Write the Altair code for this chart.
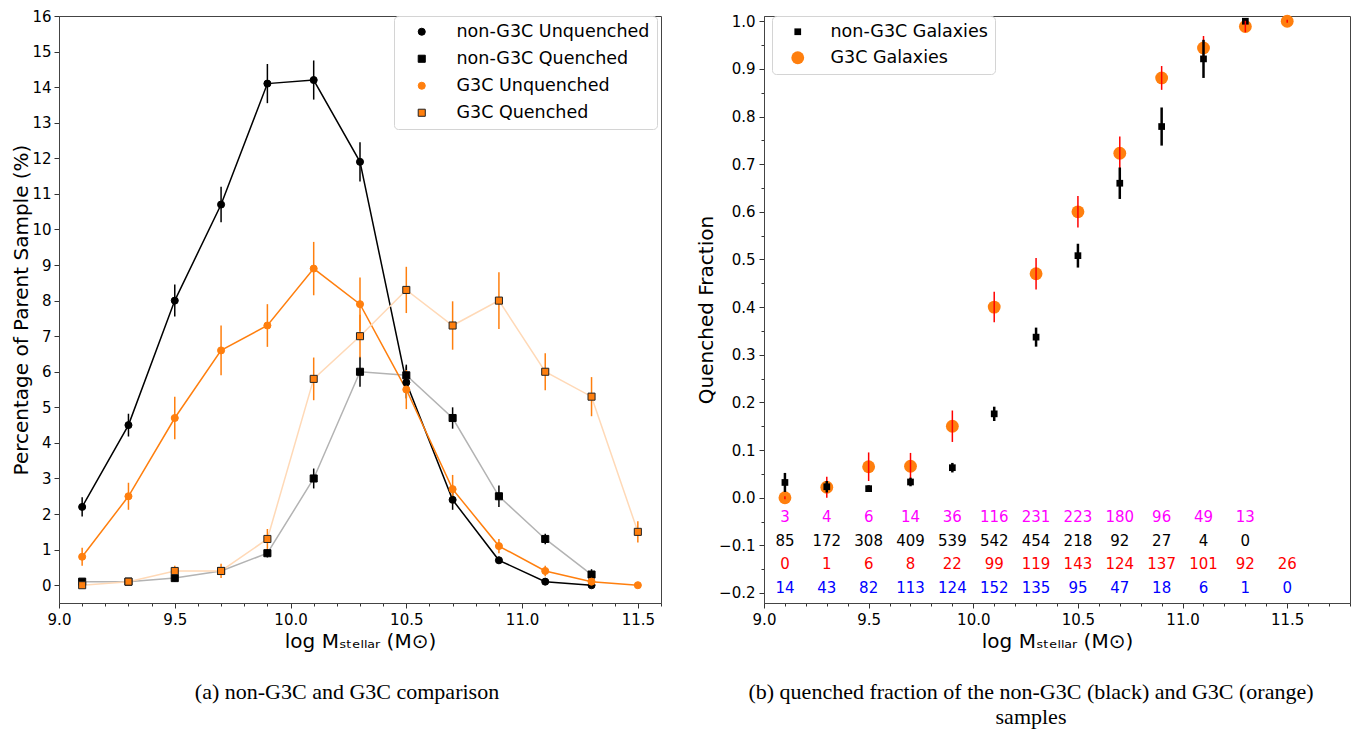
import altair as alt
import pandas as pd

# ---------------- data ----------------
mass_ng = [9.1, 9.3, 9.5, 9.7, 9.9, 10.1, 10.3, 10.5, 10.7, 10.9, 11.1, 11.3]
mass_g = [9.1, 9.3, 9.5, 9.7, 9.9, 10.1, 10.3, 10.5, 10.7, 10.9, 11.1, 11.3, 11.5]

# panel (a): percentage of parent sample
ng_unq_pct = [2.2, 4.5, 8.0, 10.7, 14.1, 14.2, 11.9, 5.7, 2.4, 0.7, 0.1, 0.0]
ng_unq_err = [0.27, 0.32, 0.45, 0.5, 0.55, 0.55, 0.55, 0.45, 0.28, 0.1, 0.04, 0.0]
ng_q_pct = [0.1, 0.1, 0.2, 0.4, 0.9, 3.0, 6.0, 5.9, 4.7, 2.5, 1.3, 0.3]
ng_q_err = [0.03, 0.03, 0.1, 0.08, 0.12, 0.28, 0.42, 0.3, 0.3, 0.3, 0.15, 0.15]
g_unq_pct = [0.8, 2.5, 4.7, 6.6, 7.3, 8.9, 7.9, 5.5, 2.7, 1.1, 0.4, 0.1, 0.0]
g_unq_err = [0.25, 0.38, 0.6, 0.7, 0.6, 0.75, 0.75, 0.55, 0.4, 0.2, 0.15, 0.05, 0.0]
g_q_pct = [0.0, 0.1, 0.4, 0.4, 1.3, 5.8, 7.0, 8.3, 7.3, 8.0, 6.0, 5.3, 1.5]
g_q_err = [0.0, 0.03, 0.15, 0.2, 0.28, 0.6, 0.6, 0.65, 0.68, 0.8, 0.52, 0.55, 0.3]

# panel (b): quenched fraction
ng_frac = [0.032, 0.023, 0.019, 0.033, 0.063, 0.176, 0.337, 0.508, 0.660, 0.779, 0.921, 1.0]
ng_frac_err = [0.02, 0.012, 0.007, 0.009, 0.01, 0.015, 0.02, 0.025, 0.033, 0.04, 0.04, 0.0]
g_frac = [0.0, 0.022, 0.065, 0.066, 0.150, 0.400, 0.470, 0.600, 0.723, 0.881, 0.944, 0.989, 1.0]
g_frac_err = [0.003, 0.022, 0.03, 0.028, 0.033, 0.032, 0.033, 0.033, 0.035, 0.025, 0.025, 0.012, 0.003]

# counts printed under the points
ng_q_n = [3, 4, 6, 14, 36, 116, 231, 223, 180, 96, 49, 13]
ng_u_n = [85, 172, 308, 409, 539, 542, 454, 218, 92, 27, 4, 0]
g_q_n = [0, 1, 6, 8, 22, 99, 119, 143, 124, 137, 101, 92, 26]
g_u_n = [14, 43, 82, 113, 124, 152, 135, 95, 47, 18, 6, 1, 0]

left_series = ["non-G3C Unquenched", "non-G3C Quenched", "G3C Unquenched", "G3C Quenched"]
right_series = ["non-G3C Galaxies", "G3C Galaxies"]

xticks_left = [9.0, 9.1, 9.2, 9.3, 9.4, 9.5, 9.6, 9.7, 9.8, 9.9, 10.0, 10.1, 10.2, 10.3, 10.4,
               10.5, 10.6, 10.7, 10.8, 10.9, 11.0, 11.1, 11.2, 11.3, 11.4, 11.5, 11.6]
xticks_right = xticks_left + [11.7, 11.8]
yticks_left = [0, 1, 2, 3, 4, 5, 6, 7, 8, 9, 10, 11, 12, 13, 14, 15, 16]
yticks_right = [-0.2, -0.15, -0.1, -0.05, 0.0, 0.05, 0.1, 0.15, 0.2, 0.25, 0.3, 0.35, 0.4, 0.45,
                0.5, 0.55, 0.6, 0.65, 0.7, 0.75, 0.8, 0.85, 0.9, 0.95, 1.0]

# ---------------- styling ----------------
ORANGE = "#ff7f0e"
LIGHT_ORANGE = "#ffd9b7"
GREY = "#b3b3b3"
FONT = "DejaVu Sans"
SERIF = "Liberation Serif"


def frame(x, y, e, name):
    return pd.DataFrame({"m": x, "v": y, "e": e, "s": name})


d_ngu = frame(mass_ng, ng_unq_pct, ng_unq_err, left_series[0])
d_ngq = frame(mass_ng, ng_q_pct, ng_q_err, left_series[1])
d_gu = frame(mass_g, g_unq_pct, g_unq_err, left_series[2])
d_gq = frame(mass_g, g_q_pct, g_q_err, left_series[3])
left_df = pd.concat([d_ngu, d_ngq, d_gu, d_gq], ignore_index=True)

d_rng = frame(mass_ng, ng_frac, ng_frac_err, right_series[0])
d_rg = frame(mass_g, g_frac, g_frac_err, right_series[1])
right_df = pd.concat([d_rg, d_rng], ignore_index=True)

xl = alt.Scale(domain=[9.0, 11.6], nice=False, zero=False)
yl = alt.Scale(domain=[-0.5, 16.0], nice=False, zero=False)
xr = alt.Scale(domain=[9.0, 11.8], nice=False, zero=False)
yr = alt.Scale(domain=[-0.221, 1.011], nice=False, zero=False)

half_test = "abs(datum.value*2 - round(datum.value*2)) < 0.01"
tenth_test = "abs(datum.value*10 - round(datum.value*10)) < 0.01"

common_axis = dict(grid=False, labelFont=FONT, labelFontSize=15, labelColor="black",
                   titleFont=FONT, titleFontSize=20, titleFontWeight="normal", titleColor="black",
                   domainColor="#444", tickColor="#333", tickWidth=1, labelOverlap=False,
                   labelFlush=False, labelLimit=300)

XTITLE = "log Mₛₜₑₗₗₐᵣ (M⊙)"

x_axis_left = alt.Axis(values=xticks_left, title=XTITLE,
                       labelExpr=f"{half_test} ? format(datum.value, '.1f') : ''",
                       tickSize={"condition": {"test": half_test, "value": 5}, "value": 3},
                       labelPadding=4, titlePadding=4, **common_axis)
y_axis_left = alt.Axis(values=yticks_left, title="Percentage of Parent Sample (%)", format="d",
                       tickSize=5, labelPadding=3, titlePadding=0, **common_axis)
x_axis_right = alt.Axis(values=xticks_right, title=XTITLE,
                        labelExpr=f"{half_test} ? format(datum.value, '.1f') : ''",
                        tickSize={"condition": {"test": half_test, "value": 5}, "value": 3},
                        labelPadding=4, titlePadding=4, **common_axis)
y_axis_right = alt.Axis(values=yticks_right, title="Quenched Fraction",
                        labelExpr=f"{tenth_test} ? format(datum.value, '.1f') : ''",
                        tickSize={"condition": {"test": tenth_test, "value": 5}, "value": 3},
                        labelPadding=4, titlePadding=2, **common_axis)

AX_L = (xl, yl, x_axis_left, y_axis_left)
AX_R = (xr, yr, x_axis_right, y_axis_right)


def line_layer(df, color, ax):
    xs, ys, xa, ya = ax
    return alt.Chart(df).mark_line(color=color, strokeWidth=1.5).encode(
        x=alt.X("m:Q", scale=xs, axis=xa), y=alt.Y("v:Q", scale=ys, axis=ya))


def err_layer(df, color, width, ax):
    xs, ys, xa, ya = ax
    return alt.Chart(df).transform_calculate(
        lo="datum.v - datum.e", hi="datum.v + datum.e"
    ).mark_rule(color=color, strokeWidth=width).encode(
        x=alt.X("m:Q", scale=xs, axis=xa),
        y=alt.Y("lo:Q", scale=ys, axis=ya), y2="hi:Q")


leg_left = alt.Legend(title=None, orient="none", legendX=335, legendY=0, fillColor="white",
                      strokeColor="#d4d4d4", cornerRadius=4, padding=7, labelFont=FONT,
                      labelFontSize=17.5, labelColor="black", rowPadding=8, symbolOffset=12,
                      labelOffset=26, symbolSize=50, symbolStrokeWidth=1, labelLimit=300)

left_points = alt.Chart(left_df).mark_point(filled=True, size=50, strokeWidth=1, opacity=1).encode(
    x=alt.X("m:Q", scale=xl, axis=x_axis_left),
    y=alt.Y("v:Q", scale=yl, axis=y_axis_left),
    fill=alt.Fill("s:N", scale=alt.Scale(domain=left_series, range=["black", "black", ORANGE, ORANGE]),
                  legend=leg_left),
    shape=alt.Shape("s:N", scale=alt.Scale(domain=left_series, range=["circle", "square", "circle", "square"]),
                    legend=leg_left),
    stroke=alt.Stroke("s:N", scale=alt.Scale(domain=left_series, range=["black", "black", ORANGE, "#222222"]),
                      legend=leg_left),
)

left = alt.layer(
    line_layer(d_ngu, "black", AX_L), err_layer(d_ngu, "black", 1.5, AX_L),
    line_layer(d_ngq, GREY, AX_L), err_layer(d_ngq, "black", 1.5, AX_L),
    line_layer(d_gu, ORANGE, AX_L), err_layer(d_gu, ORANGE, 1.5, AX_L),
    line_layer(d_gq, LIGHT_ORANGE, AX_L), err_layer(d_gq, ORANGE, 1.5, AX_L),
    left_points,
).properties(
    width=602, height=587,
    title=alt.TitleParams(text="(a) non-G3C and G3C comparison", orient="bottom", anchor="middle",
                          font=SERIF, fontSize=22, fontWeight="normal", color="black",
                          offset=31, dx=-13),
)

leg_right = alt.Legend(title=None, orient="none", legendX=8, legendY=0, fillColor="white",
                       strokeColor="#d4d4d4", cornerRadius=4, padding=7, labelFont=FONT,
                       labelFontSize=17.5, labelColor="black", rowPadding=7, symbolOffset=10,
                       labelOffset=24, symbolStrokeWidth=0, labelLimit=300)

right_points = alt.Chart(right_df).mark_point(filled=True, strokeWidth=0, opacity=1).encode(
    x=alt.X("m:Q", scale=xr, axis=x_axis_right),
    y=alt.Y("v:Q", scale=yr, axis=y_axis_right),
    fill=alt.Fill("s:N", scale=alt.Scale(domain=right_series, range=["black", ORANGE]), legend=leg_right),
    shape=alt.Shape("s:N", scale=alt.Scale(domain=right_series, range=["square", "circle"]), legend=leg_right),
    size=alt.Size("s:N", scale=alt.Scale(domain=right_series, range=[45, 165]), legend=leg_right),
)

cnt_ng = pd.DataFrame({"m": mass_ng, "q": ng_q_n, "u": ng_u_n})
cnt_g = pd.DataFrame({"m": mass_g, "q": g_q_n, "u": g_u_n})


def count_row(df, field, row_y, color):
    return alt.Chart(df).mark_text(font=FONT, fontSize=15, color=color, baseline="middle",
                                   align="center").encode(
        x=alt.X("m:Q", scale=xr, axis=x_axis_right),
        y=alt.YDatum(datum=row_y, type="quantitative", scale=yr, axis=y_axis_right),
        text=alt.Text(f"{field}:Q", format="d"))


right = alt.layer(
    right_points,
    err_layer(d_rg, "#ff0000", 1.5, AX_R),
    err_layer(d_rng, "black", 2.5, AX_R),
    count_row(cnt_ng, "q", -0.04, "#ff00ff"),
    count_row(cnt_ng, "u", -0.09, "black"),
    count_row(cnt_g, "q", -0.14, "#ff0000"),
    count_row(cnt_g, "u", -0.19, "#0000ff"),
).properties(
    width=586, height=587,
    title=alt.TitleParams(text=["(b) quenched fraction of the non-G3C (black) and G3C (orange)", "samples"],
                          orient="bottom", anchor="middle", font=SERIF, fontSize=22,
                          fontWeight="normal", color="black", offset=31, dx=-26, lineHeight=25),
)

chart = alt.hconcat(left, right, spacing=103, bounds="flush").resolve_scale(
    fill="independent", shape="independent", stroke="independent", size="independent"
).properties(
    padding={"left": 3, "top": 0, "right": 0, "bottom": 0}
).configure(font=FONT).configure_view(stroke="#444", strokeWidth=1)

chart.save("out.html", embed_options={"renderer": "svg", "actions": False})
